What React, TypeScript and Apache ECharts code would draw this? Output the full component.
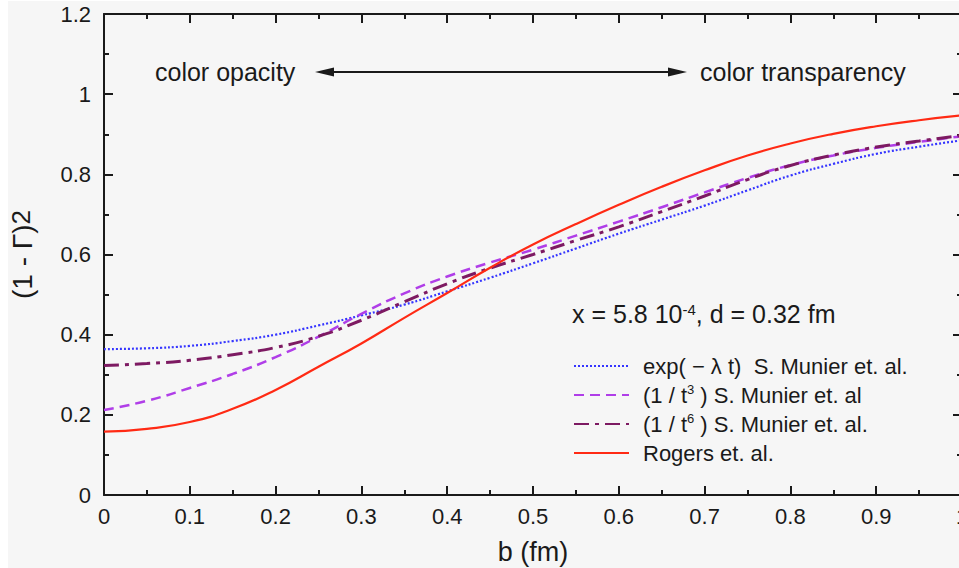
import React, { useEffect, useRef } from "react";
import * as echarts from "echarts";

const bValues = [0, 0.05, 0.1, 0.15, 0.2, 0.25, 0.3, 0.35, 0.4, 0.45, 0.5, 0.55, 0.6, 0.65, 0.7, 0.75, 0.8, 0.85, 0.9, 0.95, 1.0];
const expSeries = [0.364, 0.366, 0.372, 0.384, 0.4, 0.423, 0.448, 0.475, 0.508, 0.542, 0.578, 0.615, 0.652, 0.687, 0.722, 0.76, 0.797, 0.826, 0.851, 0.869, 0.885];
const t3Series = [0.212, 0.235, 0.267, 0.302, 0.344, 0.395, 0.452, 0.503, 0.545, 0.58, 0.612, 0.647, 0.682, 0.718, 0.755, 0.791, 0.823, 0.847, 0.866, 0.881, 0.895];
const t6Series = [0.323, 0.328, 0.336, 0.35, 0.368, 0.396, 0.436, 0.482, 0.527, 0.566, 0.6, 0.635, 0.669, 0.707, 0.746, 0.787, 0.822, 0.848, 0.868, 0.883, 0.897];
const rogersSeries = [0.158, 0.165, 0.182, 0.215, 0.262, 0.32, 0.378, 0.442, 0.504, 0.567, 0.625, 0.676, 0.724, 0.769, 0.81, 0.847, 0.877, 0.901, 0.92, 0.935, 0.947];

const seriesNames = ["exp( − λ t)  S. Munier et. al.", "(1 / t3 ) S. Munier et. al", "(1 / t6 ) S. Munier et. al.", "Rogers et. al."];
const legendRich = ["exp( − λ t)  S. Munier et. al.", "(1 / t{sup|3} ) S. Munier et. al", "(1 / t{sup|6} ) S. Munier et. al.", "Rogers et. al."];

const xTicks = { min: 0, max: 1, interval: 0.1 };
const yTicks = { min: 0, max: 1.2, interval: 0.2 };

const FONT = "'Liberation Sans', Arial, Helvetica, sans-serif";
const INK = "#1a1a1a";

function pairs(vals: number[]) {
  return bValues.map((b, i) => [b, vals[i]]);
}

export default function App() {
  const ref = useRef<HTMLDivElement>(null);
  useEffect(() => {
    if (!ref.current) return;
    const chart = echarts.init(ref.current, null, { renderer: "svg" });
    const axisCommon = {
      axisLine: { show: true, onZero: false, lineStyle: { color: INK, width: 2 } },
      axisTick: { show: true, inside: true, length: 9, lineStyle: { color: INK, width: 2 } },
      minorTick: { show: true, splitNumber: 2, length: 5, lineStyle: { color: INK, width: 2 } },
      splitLine: { show: false },
      minorSplitLine: { show: false },
    };
    const option: any = {
      animation: false,
      backgroundColor: "#f6f6f6",
      textStyle: { fontFamily: FONT },
      grid: { left: 104, top: 14, width: 858, height: 481, containLabel: false, outerBoundsMode: "none" },
      xAxis: [
        {
          type: "value", ...xTicks, position: "bottom", ...axisCommon,
          axisLabel: { show: true, margin: 10, fontSize: 22, color: INK, fontFamily: FONT },
          name: "b (fm)", nameLocation: "middle", nameGap: 43,
          nameTextStyle: { fontSize: 27, color: INK, fontFamily: FONT },
        },
        { type: "value", ...xTicks, position: "top", ...axisCommon, axisLabel: { show: false } },
      ],
      yAxis: [
        {
          type: "value", ...yTicks, position: "left", ...axisCommon,
          axisLabel: { show: true, margin: 13, fontSize: 22, color: INK, fontFamily: FONT },
          name: "(1 - Γ){s|2}", nameLocation: "middle", nameGap: 68,
          nameTextStyle: {
            fontSize: 28, color: INK, fontFamily: FONT,
            rich: { s: { fontSize: 26, verticalAlign: "top", color: INK, fontFamily: FONT, lineHeight: 22 } },
          },
        },
        { type: "value", ...yTicks, position: "right", ...axisCommon, axisLabel: { show: false } },
      ],
      legend: {
        orient: "vertical",
        left: 568,
        top: 349,
        itemWidth: 55,
        itemHeight: 14,
        itemGap: 5,
        data: seriesNames,
        selectedMode: false,
        itemStyle: { opacity: 0 },
        formatter: (name: string) => "{pad|}" + legendRich[seriesNames.indexOf(name)],
        textStyle: {
          fontSize: 22, color: INK, fontFamily: FONT, lineHeight: 24,
          rich: {
            pad: { width: 9 },
            sup: { fontSize: 13, verticalAlign: "top", color: INK, fontFamily: FONT, lineHeight: 13 },
          },
        },
      },
      series: [
        {
          name: seriesNames[0], type: "line", data: pairs(expSeries), smooth: true, symbol: "none", showSymbol: false,
          lineStyle: { color: "#3535ff", width: 2.2, type: [2, 2] }, itemStyle: { color: "#3535ff" },
        },
        {
          name: seriesNames[1], type: "line", data: pairs(t3Series), smooth: true, symbol: "none", showSymbol: false,
          lineStyle: { color: "#b03ee8", width: 2.5, type: [10, 6] }, itemStyle: { color: "#b03ee8" },
        },
        {
          name: seriesNames[2], type: "line", data: pairs(t6Series), smooth: true, symbol: "none", showSymbol: false,
          lineStyle: { color: "#7d1a62", width: 3, type: [15, 6, 4, 6] }, itemStyle: { color: "#7d1a62" },
        },
        {
          name: seriesNames[3], type: "line", data: pairs(rogersSeries), smooth: true, symbol: "none", showSymbol: false,
          lineStyle: { color: "#ff2a14", width: 2.2, type: "solid" }, itemStyle: { color: "#ff2a14" },
        },
      ],
      graphic: [
        { type: "rect", z: -1, shape: { x: 0, y: 0, width: 8, height: 568 }, style: { fill: "#ffffff" }, silent: true },
        { type: "rect", z: -1, shape: { x: 0, y: 0, width: 959, height: 1 }, style: { fill: "#ffffff" }, silent: true },
        {
          type: "text", x: 155, y: 72,
          style: { text: "color opacity", fontSize: 25, fontFamily: FONT, fill: INK, verticalAlign: "middle", align: "left" },
        },
        {
          type: "text", x: 700, y: 72,
          style: { text: "color transparency", fontSize: 25, fontFamily: FONT, fill: INK, verticalAlign: "middle", align: "left" },
        },
        { type: "line", shape: { x1: 330, y1: 72, x2: 672, y2: 72 }, style: { stroke: INK, lineWidth: 2 } },
        { type: "polygon", shape: { points: [[315, 72], [334, 67.5], [334, 76.5]] }, style: { fill: INK } },
        { type: "polygon", shape: { points: [[687, 72], [668, 67.5], [668, 76.5]] }, style: { fill: INK } },
        {
          type: "text", x: 572, y: 314,
          style: {
            text: "x = 5.8 10{sup|-4}, d = 0.32 fm", fontSize: 25, fontFamily: FONT, fill: INK,
            verticalAlign: "middle", align: "left",
            rich: { sup: { fontSize: 15, verticalAlign: "top", fontFamily: FONT, fill: INK, lineHeight: 15 } },
          },
        },
      ],
    };
    chart.setOption(option);
    return () => chart.dispose();
  }, []);
  return (
    <div style={{ position: "absolute", left: 0, top: 0, width: 959, height: 568 }}>
      <div ref={ref} style={{ width: 959, height: 568 }} />
    </div>
  );
}
